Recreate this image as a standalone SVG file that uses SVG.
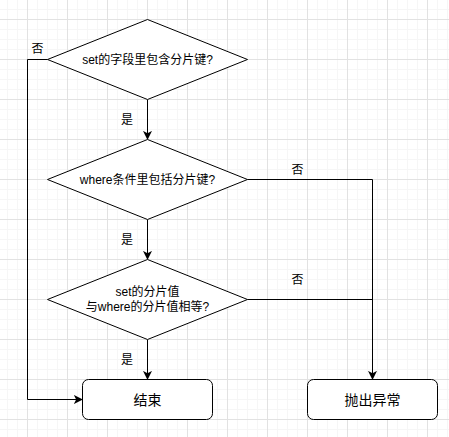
<svg xmlns="http://www.w3.org/2000/svg" width="449" height="437" viewBox="0 0 449 437">
<style>
.shape{fill:#ffffff;stroke:#000000;stroke-width:1}
.edge{fill:none;stroke:#000000;stroke-width:1}
.t{font-family:"Liberation Sans","Noto Sans CJK SC",sans-serif;font-size:12px;fill:#000000;text-anchor:middle;dominant-baseline:central}
.t14{font-size:14px}
</style>
<defs>
<pattern id="minor" patternUnits="userSpaceOnUse" x="7" y="9" width="10" height="10">
<path d="M0.5 0V10M0 0.5H10" stroke="#f6f6f6" stroke-width="1" fill="none"/>
</pattern>
<pattern id="major" patternUnits="userSpaceOnUse" x="27" y="19" width="40" height="40">
<path d="M0.5 0V40M0 0.5H40" stroke="#e2e2e2" stroke-width="1" fill="none"/>
</pattern>
<marker id="arr" viewBox="0 0 10 10" refX="9" refY="5" markerWidth="9" markerHeight="9" markerUnits="userSpaceOnUse" orient="auto">
<path d="M0 0L10 5L0 10L2.5 5Z" fill="#000000"/>
</marker>
</defs>
<rect width="449" height="437" fill="#ffffff"/>
<rect width="449" height="437" fill="url(#minor)"/>
<rect width="449" height="437" fill="url(#major)"/>
<g id="connectors">
<path class="edge" d="M147.5 99.5V139" marker-end="url(#arr)"/>
<path class="edge" d="M147.5 219.5V259" marker-end="url(#arr)"/>
<path class="edge" d="M147.5 339.5V379" marker-end="url(#arr)"/>
<path class="edge" d="M47.5 59.5H27.5V399.5H82" marker-end="url(#arr)"/>
<path class="edge" d="M247.5 179.5H372.5V379" marker-end="url(#arr)"/>
<path class="edge" d="M247.5 299.5H372.5"/>
<text class="t" x="37.5" y="49">否</text>
<text class="t" x="127" y="120">是</text>
<text class="t" x="297.5" y="169.5">否</text>
<text class="t" x="127" y="239.5">是</text>
<text class="t" x="297.5" y="279.5">否</text>
<text class="t" x="127" y="359.5">是</text>
</g>
<g id="d1">
<path class="shape" d="M147.5 19.5L247.5 59.5L147.5 99.5L47.5 59.5Z"/>
<text class="t" x="147.5" y="60">set的字段里包含分片键?</text>
</g>
<g id="d2">
<path class="shape" d="M147.5 139.5L247.5 179.5L147.5 219.5L47.5 179.5Z"/>
<text class="t" x="147.5" y="180">where条件里包括分片键?</text>
</g>
<g id="d3">
<path class="shape" d="M147.5 259.5L247.5 299.5L147.5 339.5L47.5 299.5Z"/>
<text class="t" x="147.5" y="292">set的分片值</text>
<text class="t" x="147.5" y="307">与where的分片值相等?</text>
</g>
<g id="end">
<rect class="shape" x="82.5" y="379.5" width="130" height="40" rx="6"/>
<text class="t t14" x="147.5" y="400">结束</text>
</g>
<g id="throw">
<rect class="shape" x="307.5" y="379.5" width="130" height="40" rx="6"/>
<text class="t t14" x="372.5" y="400">抛出异常</text>
</g>
</svg>
